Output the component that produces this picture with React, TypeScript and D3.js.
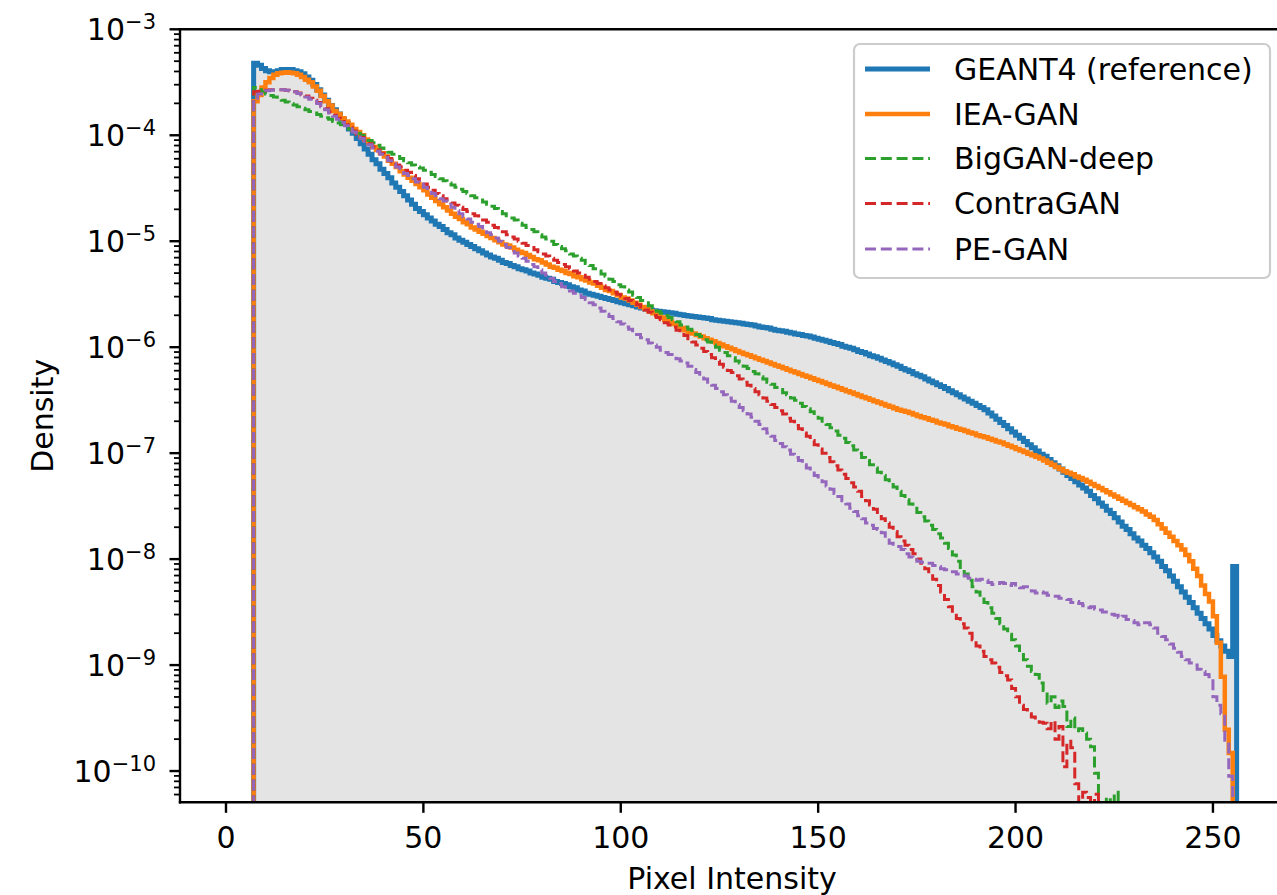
import React from 'react';
import * as d3 from 'd3';

// Histogram bins: integer pixel intensities, left edges 7..255, width 1
const binStart = 7;
const binWidth = 1;

// log10(density) per bin (-14 = empty bin)
const geant4Log = [
  -3.32,-3.34,-3.37,-3.39,-3.40,-3.40,-3.39,-3.38,-3.38,-3.38,
  -3.39,-3.40,-3.42,-3.45,-3.48,-3.52,-3.57,-3.62,-3.67,-3.72,
  -3.76,-3.80,-3.85,-3.89,-3.94,-3.98,-4.03,-4.08,-4.13,-4.18,
  -4.23,-4.27,-4.32,-4.36,-4.40,-4.45,-4.49,-4.53,-4.57,-4.61,
  -4.65,-4.69,-4.72,-4.75,-4.78,-4.81,-4.84,-4.86,-4.89,-4.92,
  -4.94,-4.97,-4.99,-5.01,-5.03,-5.05,-5.07,-5.09,-5.11,-5.13,
  -5.15,-5.16,-5.18,-5.20,-5.21,-5.23,-5.24,-5.26,-5.27,-5.28,
  -5.30,-5.31,-5.32,-5.34,-5.35,-5.36,-5.38,-5.39,-5.40,-5.41,
  -5.43,-5.44,-5.46,-5.47,-5.49,-5.50,-5.51,-5.52,-5.53,-5.54,
  -5.55,-5.56,-5.57,-5.58,-5.59,-5.60,-5.61,-5.62,-5.63,-5.64,
  -5.65,-5.655,-5.66,-5.665,-5.67,-5.675,-5.68,-5.69,-5.695,-5.70,
  -5.705,-5.71,-5.715,-5.72,-5.725,-5.73,-5.74,-5.745,-5.75,-5.755,
  -5.76,-5.765,-5.77,-5.775,-5.78,-5.785,-5.79,-5.80,-5.81,-5.815,
  -5.82,-5.83,-5.84,-5.845,-5.85,-5.86,-5.865,-5.875,-5.88,-5.89,
  -5.895,-5.905,-5.915,-5.925,-5.935,-5.945,-5.955,-5.965,-5.975,-5.99,
  -6.00,-6.01,-6.025,-6.04,-6.05,-6.065,-6.08,-6.09,-6.105,-6.12,
  -6.135,-6.15,-6.165,-6.18,-6.20,-6.215,-6.23,-6.25,-6.265,-6.28,
  -6.30,-6.32,-6.335,-6.355,-6.37,-6.39,-6.41,-6.43,-6.45,-6.47,
  -6.49,-6.51,-6.53,-6.55,-6.57,-6.59,-6.62,-6.65,-6.68,-6.71,
  -6.74,-6.77,-6.80,-6.83,-6.86,-6.89,-6.92,-6.95,-6.98,-7.01,
  -7.03,-7.06,-7.09,-7.12,-7.15,-7.18,-7.21,-7.24,-7.27,-7.30,
  -7.33,-7.36,-7.40,-7.43,-7.47,-7.50,-7.54,-7.57,-7.61,-7.65,
  -7.69,-7.72,-7.76,-7.80,-7.83,-7.87,-7.90,-7.94,-7.98,-8.02,
  -8.07,-8.11,-8.16,-8.21,-8.26,-8.31,-8.36,-8.41,-8.46,-8.51,
  -8.56,-8.61,-8.66,-8.72,-8.77,-8.82,-8.87,-8.92,-8.07,
];

const ieaGanLog = [
  -3.68,-3.62,-3.55,-3.50,-3.46,-3.43,-3.415,-3.41,-3.405,-3.41,
  -3.415,-3.43,-3.45,-3.475,-3.50,-3.54,-3.58,-3.63,-3.68,-3.72,
  -3.77,-3.80,-3.84,-3.87,-3.90,-3.94,-3.97,-4.00,-4.04,-4.07,
  -4.11,-4.14,-4.17,-4.20,-4.24,-4.27,-4.30,-4.34,-4.37,-4.40,
  -4.43,-4.46,-4.49,-4.52,-4.56,-4.59,-4.62,-4.65,-4.68,-4.71,
  -4.74,-4.77,-4.79,-4.82,-4.84,-4.87,-4.89,-4.91,-4.93,-4.95,
  -4.97,-4.99,-5.01,-5.03,-5.04,-5.06,-5.08,-5.10,-5.11,-5.13,
  -5.15,-5.17,-5.18,-5.20,-5.22,-5.24,-5.25,-5.27,-5.28,-5.30,
  -5.31,-5.33,-5.34,-5.36,-5.37,-5.39,-5.40,-5.42,-5.44,-5.46,
  -5.47,-5.49,-5.51,-5.53,-5.54,-5.56,-5.58,-5.60,-5.62,-5.64,
  -5.66,-5.68,-5.70,-5.72,-5.74,-5.76,-5.78,-5.80,-5.82,-5.84,
  -5.855,-5.87,-5.885,-5.90,-5.915,-5.93,-5.945,-5.96,-5.975,-5.99,
  -6.005,-6.02,-6.035,-6.05,-6.064,-6.077,-6.091,-6.104,-6.118,-6.131,
  -6.145,-6.158,-6.172,-6.185,-6.199,-6.212,-6.226,-6.239,-6.253,-6.266,
  -6.28,-6.293,-6.307,-6.32,-6.334,-6.347,-6.361,-6.374,-6.388,-6.401,
  -6.415,-6.428,-6.442,-6.455,-6.469,-6.482,-6.496,-6.509,-6.523,-6.536,
  -6.55,-6.563,-6.577,-6.59,-6.60,-6.61,-6.62,-6.635,-6.65,-6.66,
  -6.67,-6.685,-6.695,-6.71,-6.72,-6.73,-6.745,-6.755,-6.77,-6.78,
  -6.79,-6.805,-6.815,-6.83,-6.84,-6.85,-6.865,-6.875,-6.89,-6.90,
  -6.915,-6.93,-6.945,-6.96,-6.975,-6.99,-7.005,-7.02,-7.035,-7.05,
  -7.07,-7.09,-7.11,-7.13,-7.15,-7.17,-7.185,-7.20,-7.22,-7.235,
  -7.25,-7.27,-7.29,-7.31,-7.33,-7.35,-7.37,-7.39,-7.41,-7.43,
  -7.45,-7.47,-7.49,-7.51,-7.53,-7.55,-7.58,-7.60,-7.63,-7.67,
  -7.71,-7.75,-7.79,-7.83,-7.87,-7.91,-7.96,-8.02,-8.09,-8.16,
  -8.25,-8.33,-8.40,-8.54,-8.79,-9.11,-9.61,-9.83,-14,
];

const bigGanDeepLog = [
  -3.55,-3.57,-3.59,-3.61,-3.625,-3.64,-3.655,-3.67,-3.685,-3.70,
  -3.715,-3.73,-3.745,-3.76,-3.775,-3.79,-3.805,-3.82,-3.835,-3.85,
  -3.87,-3.885,-3.90,-3.92,-3.94,-3.96,-3.98,-4.00,-4.025,-4.05,
  -4.07,-4.095,-4.12,-4.14,-4.16,-4.18,-4.20,-4.22,-4.24,-4.26,
  -4.28,-4.30,-4.31,-4.33,-4.35,-4.37,-4.39,-4.41,-4.43,-4.45,
  -4.47,-4.49,-4.51,-4.53,-4.55,-4.57,-4.59,-4.61,-4.63,-4.65,
  -4.67,-4.69,-4.72,-4.74,-4.76,-4.78,-4.80,-4.83,-4.85,-4.87,
  -4.89,-4.91,-4.94,-4.96,-4.98,-5.00,-5.03,-5.05,-5.07,-5.09,
  -5.12,-5.14,-5.16,-5.18,-5.21,-5.23,-5.26,-5.28,-5.31,-5.33,
  -5.36,-5.38,-5.41,-5.43,-5.46,-5.48,-5.51,-5.53,-5.56,-5.58,
  -5.61,-5.63,-5.66,-5.68,-5.70,-5.72,-5.74,-5.76,-5.79,-5.81,
  -5.83,-5.86,-5.88,-5.90,-5.93,-5.95,-5.98,-6.00,-6.03,-6.05,
  -6.08,-6.10,-6.13,-6.15,-6.18,-6.20,-6.23,-6.25,-6.28,-6.30,
  -6.33,-6.35,-6.38,-6.40,-6.43,-6.45,-6.48,-6.50,-6.53,-6.56,
  -6.58,-6.61,-6.64,-6.67,-6.70,-6.73,-6.76,-6.79,-6.83,-6.86,
  -6.90,-6.93,-6.97,-7.00,-7.04,-7.07,-7.11,-7.14,-7.18,-7.21,
  -7.25,-7.28,-7.32,-7.36,-7.40,-7.44,-7.48,-7.52,-7.56,-7.60,
  -7.64,-7.68,-7.72,-7.76,-7.80,-7.85,-7.90,-7.96,-8.02,-8.08,
  -8.14,-8.20,-8.26,-8.31,-8.36,-8.41,-8.46,-8.51,-8.56,-8.61,
  -8.66,-8.71,-8.76,-8.82,-8.88,-8.95,-9.01,-9.06,-9.09,-9.17,
  -9.24,-9.36,-9.30,-9.40,-9.34,-9.39,-9.58,-9.50,-9.62,-9.60,
  -9.64,-9.70,-9.77,-10.02,-10.30,-10.50,-10.25,-14,-10.20,-14,
  -14,-14,-14,-14,-14,-14,-14,-14,-14,-14,
  -14,-14,-14,-14,-14,-14,-14,-14,-14,-14,
  -14,-14,-14,-14,-14,-14,-14,-14,-14,
];

const contraGanLog = [
  -3.59,-3.585,-3.58,-3.575,-3.57,-3.57,-3.57,-3.57,-3.575,-3.58,
  -3.59,-3.60,-3.615,-3.63,-3.65,-3.67,-3.69,-3.72,-3.75,-3.78,
  -3.81,-3.84,-3.87,-3.90,-3.93,-3.96,-3.99,-4.02,-4.05,-4.08,
  -4.11,-4.14,-4.17,-4.20,-4.22,-4.25,-4.28,-4.30,-4.33,-4.35,
  -4.38,-4.41,-4.44,-4.46,-4.49,-4.52,-4.55,-4.57,-4.60,-4.62,
  -4.64,-4.66,-4.68,-4.70,-4.72,-4.74,-4.76,-4.78,-4.80,-4.82,
  -4.85,-4.87,-4.89,-4.91,-4.94,-4.96,-4.98,-5.00,-5.02,-5.04,
  -5.06,-5.08,-5.10,-5.12,-5.14,-5.16,-5.18,-5.20,-5.22,-5.24,
  -5.26,-5.28,-5.30,-5.32,-5.34,-5.36,-5.38,-5.40,-5.42,-5.44,
  -5.46,-5.48,-5.50,-5.52,-5.54,-5.56,-5.58,-5.60,-5.62,-5.65,
  -5.67,-5.70,-5.72,-5.74,-5.77,-5.79,-5.81,-5.84,-5.86,-5.89,
  -5.92,-5.95,-5.98,-6.01,-6.04,-6.07,-6.10,-6.13,-6.16,-6.19,
  -6.22,-6.24,-6.27,-6.30,-6.33,-6.36,-6.39,-6.42,-6.45,-6.48,
  -6.51,-6.54,-6.57,-6.60,-6.63,-6.67,-6.70,-6.74,-6.77,-6.81,
  -6.84,-6.88,-6.92,-6.96,-7.00,-7.04,-7.08,-7.12,-7.16,-7.20,
  -7.24,-7.28,-7.32,-7.36,-7.41,-7.45,-7.49,-7.53,-7.58,-7.62,
  -7.66,-7.70,-7.74,-7.79,-7.83,-7.87,-7.91,-7.95,-8.00,-8.04,
  -8.09,-8.14,-8.19,-8.25,-8.31,-8.38,-8.45,-8.51,-8.56,-8.61,
  -8.65,-8.70,-8.76,-8.82,-8.87,-8.92,-8.95,-8.98,-9.02,-9.07,
  -9.10,-9.14,-9.22,-9.30,-9.38,-9.42,-9.46,-9.49,-9.52,-9.54,
  -9.55,-9.60,-9.53,-9.70,-9.58,-9.96,-9.72,-9.78,-10.12,-10.30,
  -10.20,-10.25,-14,-10.22,-10.30,-14,-14,-14,-14,-14,
  -14,-14,-14,-14,-14,-14,-14,-14,-14,-14,
  -14,-14,-14,-14,-14,-14,-14,-14,-14,-14,
  -14,-14,-14,-14,-14,-14,-14,-14,-14,
];

const peGanLog = [
  -3.65,-3.61,-3.59,-3.58,-3.575,-3.57,-3.57,-3.57,-3.575,-3.58,
  -3.59,-3.605,-3.62,-3.64,-3.66,-3.68,-3.70,-3.73,-3.76,-3.79,
  -3.82,-3.85,-3.88,-3.91,-3.94,-3.97,-4.00,-4.03,-4.06,-4.09,
  -4.12,-4.15,-4.18,-4.21,-4.24,-4.27,-4.30,-4.33,-4.36,-4.38,
  -4.41,-4.44,-4.46,-4.49,-4.52,-4.55,-4.57,-4.60,-4.62,-4.65,
  -4.68,-4.71,-4.74,-4.77,-4.79,-4.82,-4.84,-4.86,-4.89,-4.92,
  -4.94,-4.97,-5.00,-5.03,-5.06,-5.08,-5.11,-5.14,-5.16,-5.19,
  -5.22,-5.24,-5.27,-5.30,-5.32,-5.35,-5.38,-5.40,-5.43,-5.45,
  -5.47,-5.49,-5.51,-5.53,-5.55,-5.58,-5.60,-5.63,-5.66,-5.69,
  -5.71,-5.73,-5.76,-5.78,-5.81,-5.83,-5.86,-5.88,-5.91,-5.93,
  -5.96,-5.98,-6.00,-6.03,-6.05,-6.07,-6.09,-6.11,-6.13,-6.15,
  -6.18,-6.21,-6.24,-6.27,-6.30,-6.33,-6.36,-6.39,-6.42,-6.45,
  -6.48,-6.51,-6.54,-6.57,-6.60,-6.63,-6.66,-6.70,-6.73,-6.77,
  -6.81,-6.84,-6.88,-6.91,-6.94,-6.97,-7.01,-7.04,-7.07,-7.11,
  -7.14,-7.17,-7.21,-7.24,-7.27,-7.31,-7.34,-7.38,-7.41,-7.45,
  -7.48,-7.52,-7.55,-7.59,-7.62,-7.66,-7.68,-7.71,-7.72,-7.75,
  -7.80,-7.85,-7.86,-7.88,-7.91,-7.95,-7.98,-7.99,-8.02,-8.03,
  -8.04,-8.04,-8.06,-8.07,-8.09,-8.10,-8.10,-8.12,-8.14,-8.15,
  -8.16,-8.18,-8.19,-8.20,-8.19,-8.20,-8.22,-8.24,-8.23,-8.22,
  -8.23,-8.25,-8.23,-8.26,-8.27,-8.26,-8.28,-8.30,-8.32,-8.31,
  -8.32,-8.34,-8.35,-8.35,-8.37,-8.37,-8.38,-8.41,-8.40,-8.42,
  -8.44,-8.46,-8.45,-8.47,-8.48,-8.50,-8.50,-8.52,-8.53,-8.55,
  -8.54,-8.57,-8.58,-8.60,-8.62,-8.60,-8.60,-8.62,-8.65,-8.70,
  -8.73,-8.76,-8.80,-8.84,-8.88,-8.92,-8.95,-8.98,-9.00,-9.04,
  -9.06,-9.09,-9.11,-9.30,-9.38,-9.46,-9.71,-10.05,-14,
];

const seriesNames = ['GEANT4 (reference)', 'IEA-GAN', 'BigGAN-deep', 'ContraGAN', 'PE-GAN'];
const seriesData = [geant4Log, ieaGanLog, bigGanDeepLog, contraGanLog, peGanLog];
const xTicks = [0, 50, 100, 150, 200, 250];
const yDecades = [-3, -4, -5, -6, -7, -8, -9, -10];

const W = 1277;
const H = 895;
const LEFT = 180;
const RIGHT = 1284;
const TOP = 29.3;
const BOTTOM = 802.3;
const FONT = 'DejaVu Sans';
const FS = 30;

const styles = [
  { color: '#1f77b4', width: 5, dash: undefined as string | undefined },
  { color: '#ff7f0e', width: 4.5, dash: undefined as string | undefined },
  { color: '#2ca02c', width: 3, dash: '11,4.8' },
  { color: '#d62728', width: 3, dash: '11,4.8' },
  { color: '#9467bd', width: 3, dash: '11,4.8' },
];

export default function App() {
  const x = d3.scaleLinear().domain([-11.65, 268.0]).range([LEFT, RIGHT]);
  const y = d3.scaleLog().domain([5.07e-11, 1e-3]).range([BOTTOM, TOP]);
  const floor = 1e-16;

  const toPoints = (logs: number[]): [number, number][] => {
    const pts: [number, number][] = [[binStart, floor]];
    logs.forEach((lv, i) => pts.push([binStart + i * binWidth, Math.pow(10, lv)]));
    const end = binStart + logs.length * binWidth;
    pts.push([end, Math.pow(10, logs[logs.length - 1])]);
    pts.push([end, floor]);
    return pts;
  };

  const line = d3
    .line<[number, number]>()
    .x((d) => x(d[0]))
    .y((d) => y(d[1]))
    .curve(d3.curveStepAfter);

  const area = d3
    .area<[number, number]>()
    .x((d) => x(d[0]))
    .y0(BOTTOM + 50)
    .y1((d) => y(d[1]))
    .curve(d3.curveStepAfter);

  const minorTicks: number[] = [];
  for (let e = -11; e <= -4; e++) {
    for (let k = 2; k <= 9; k++) {
      const v = k * Math.pow(10, e);
      if (v >= 5.07e-11 && v < 1e-3) minorTicks.push(v);
    }
  }

  const legendRows = [69, 114, 158.5, 203.5, 249];

  return (
    <svg
      width={W}
      height={H}
      style={{ position: 'absolute', left: 0, top: 0, background: '#fff' }}
      fontFamily={FONT}
    >
      <defs>
        <clipPath id="plotClip">
          <rect x={LEFT} y={TOP} width={RIGHT - LEFT} height={BOTTOM - TOP} />
        </clipPath>
      </defs>
      <rect x={0} y={0} width={W} height={H} fill="#fff" />

      <g clipPath="url(#plotClip)">
        <path d={area(toPoints(seriesData[0])) || ''} fill="#e4e4e4" stroke="none" />
        {seriesData.map((s, i) => (
          <path
            key={seriesNames[i]}
            d={line(toPoints(s)) || ''}
            fill="none"
            stroke={styles[i].color}
            strokeWidth={styles[i].width}
            strokeDasharray={styles[i].dash}
            strokeLinejoin="miter"
            strokeLinecap="butt"
          />
        ))}
      </g>

      {/* spines */}
      <line x1={LEFT} x2={LEFT} y1={TOP - 1.2} y2={BOTTOM + 1.2} stroke="#000" strokeWidth={2.4} />
      <line x1={LEFT - 1.2} x2={RIGHT} y1={BOTTOM} y2={BOTTOM} stroke="#000" strokeWidth={2.4} />
      <line x1={LEFT - 1.2} x2={RIGHT} y1={TOP} y2={TOP} stroke="#000" strokeWidth={2.4} />
      <line x1={RIGHT} x2={RIGHT} y1={TOP} y2={BOTTOM} stroke="#000" strokeWidth={2.4} />

      {/* x ticks */}
      {xTicks.map((t) => (
        <g key={t}>
          <line x1={x(t)} x2={x(t)} y1={BOTTOM} y2={BOTTOM + 10.5} stroke="#000" strokeWidth={2.4} />
          <text x={x(t)} y={848} textAnchor="middle" fontSize={FS} fill="#000">
            {t}
          </text>
        </g>
      ))}

      {/* y minor ticks */}
      {minorTicks.map((v, i) => (
        <line key={i} x1={LEFT - 6} x2={LEFT} y1={y(v)} y2={y(v)} stroke="#000" strokeWidth={1.8} />
      ))}

      {/* y major ticks */}
      {yDecades.map((e) => {
        const yy = y(Math.pow(10, e));
        return (
          <g key={e}>
            <line x1={LEFT - 10.5} x2={LEFT} y1={yy} y2={yy} stroke="#000" strokeWidth={2.4} />
            <text x={156} y={yy + 10.8} textAnchor="end" fontSize={FS} fill="#000">
              10
              <tspan fontSize={21} dy={-11}>
                {'\u2212' + Math.abs(e)}
              </tspan>
            </text>
          </g>
        );
      })}

      {/* axis labels */}
      <text x={(LEFT + RIGHT) / 2} y={889} textAnchor="middle" fontSize={FS} fill="#000">
        Pixel Intensity
      </text>
      <text
        transform={`translate(53, ${(TOP + BOTTOM) / 2}) rotate(-90)`}
        textAnchor="middle"
        fontSize={FS}
        fill="#000"
      >
        Density
      </text>

      {/* legend */}
      <rect x={854} y={44} width={416} height={234} rx={6} ry={6} fill="#fff" fillOpacity={0.8} stroke="#cccccc" strokeWidth={2.2} />
      {seriesNames.map((n, i) => (
        <g key={n}>
          <line
            x1={865}
            x2={930}
            y1={legendRows[i]}
            y2={legendRows[i]}
            stroke={styles[i].color}
            strokeWidth={styles[i].width}
            strokeDasharray={styles[i].dash}
          />
          <text x={954} y={legendRows[i] + 10.8} fontSize={FS} fill="#000">
            {n}
          </text>
        </g>
      ))}
    </svg>
  );
}
